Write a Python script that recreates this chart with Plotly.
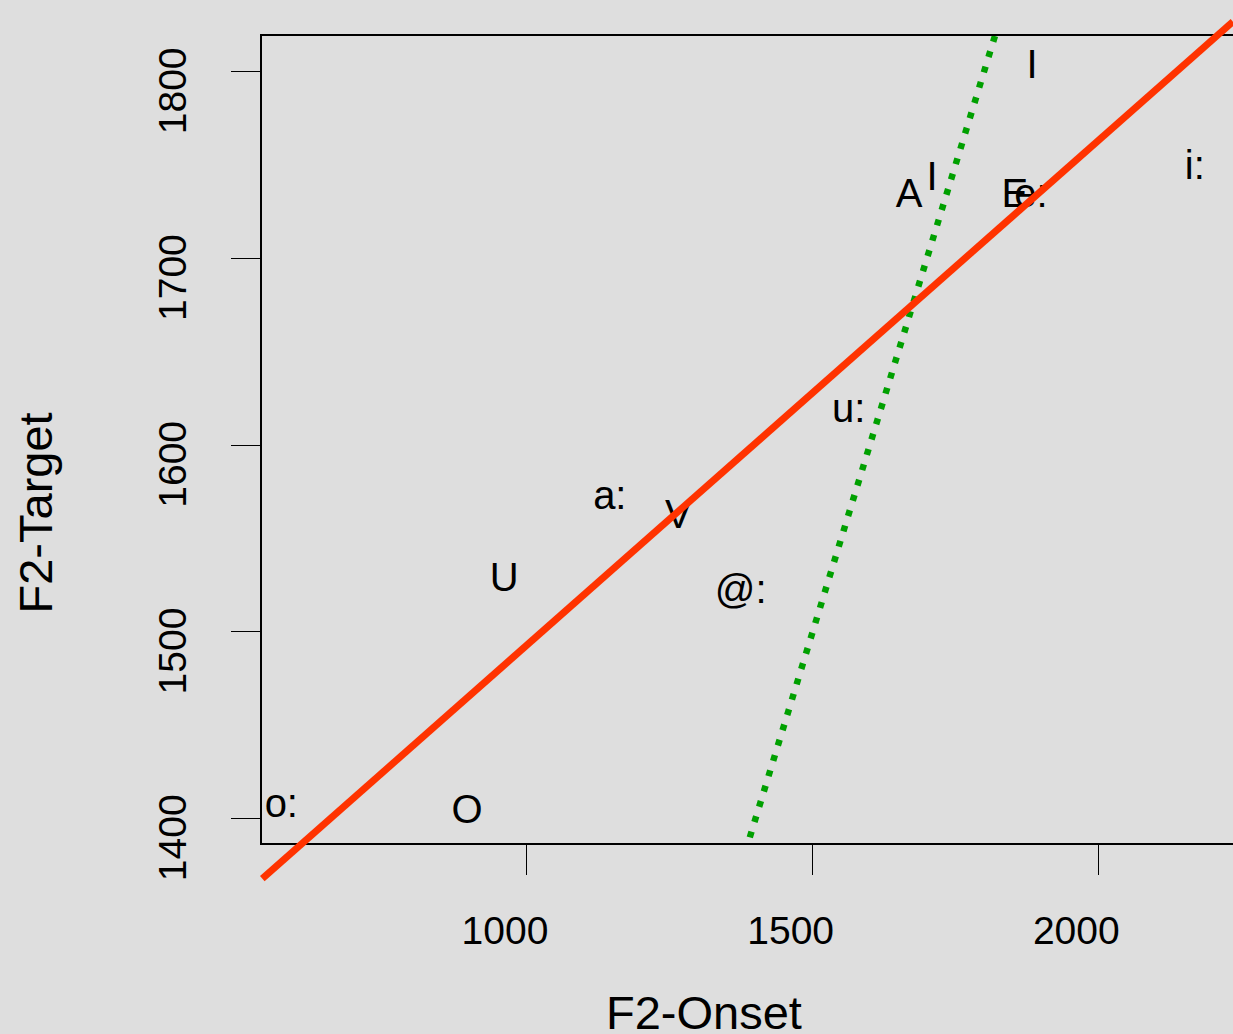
import plotly.graph_objects as go

# ---------------- data ----------------
vowels = ["o:", "O", "U", "a:", "V", "@:", "u:", "A", "I", "E", "e:", "I", "i:"]
f2_onset = [570, 895, 960, 1145, 1265, 1374, 1563, 1669, 1709, 1854, 1882, 1884, 2169]
f2_target = [1406, 1403, 1527, 1571, 1561, 1521, 1618, 1733, 1742, 1733, 1733, 1802, 1748]

fit_intercept = 1222.9   # regression line (red)
fit_slope = 0.2701

x_ticks = [1000, 1500, 2000]
y_ticks = [1400, 1500, 1600, 1700, 1800]

# ---------------- layout geometry ----------------
W, H = 1233, 1034
x_range = [536.7, 2235.8]
y_range = [1386.8, 1819.1]
x_dom = [262.3 / W, 1.0]
y_dom = [1 - 843.3 / H, 1 - 36 / H]


def full_range(r, d, npx):
    upp = (r[1] - r[0]) / (npx * (d[1] - d[0]))
    return [r[0] - d[0] * npx * upp, r[1] + (1 - d[1]) * npx * upp]


x2_range = full_range(x_range, x_dom, W)
y2_range = full_range(y_range, y_dom, H)

FONT = "Liberation Sans, Arial, Helvetica, sans-serif"
BG = "#DEDEDE"
RED = "#FF3300"
GREEN = "#00A000"

fig = go.Figure()

# vowel labels
fig.add_trace(go.Scatter(
    x=f2_onset, y=f2_target, mode="text", text=vowels,
    textposition="middle center",
    textfont=dict(family=FONT, size=40, color="black"),
    xaxis="x", yaxis="y", hoverinfo="skip", showlegend=False,
    cliponaxis=False))

# identity line (green dotted), clipped to the plot box
id_vals = [y_range[1], y_range[0]]
fig.add_trace(go.Scatter(
    x=id_vals, y=id_vals, mode="lines",
    line=dict(color=GREEN, width=6.5, dash="6px,10px"),
    xaxis="x", yaxis="y", hoverinfo="skip", showlegend=False))

# regression line (red), drawn on a full-page axis pair so it is not clipped by the box
fit_x = [x_range[0], x2_range[1]]
fit_y = [fit_intercept + fit_slope * v for v in fit_x]
fig.add_trace(go.Scatter(
    x=fit_x, y=fit_y, mode="lines",
    line=dict(color=RED, width=7),
    xaxis="x2", yaxis="y2", hoverinfo="skip", showlegend=False))

axis_common = dict(
    showgrid=False, zeroline=False, showline=True, linecolor="black",
    linewidth=1.5, ticks="outside", ticklen=30, tickwidth=1.4,
    tickcolor="black", tickfont=dict(family=FONT, size=39, color="black"),
    automargin=False,
)

fig.update_layout(
    width=W, height=H,
    margin=dict(l=0, r=0, t=0, b=0, pad=0, autoexpand=False),
    paper_bgcolor=BG, plot_bgcolor="rgba(0,0,0,0)",
    showlegend=False,
    xaxis=dict(domain=x_dom, range=x_range, tickvals=x_ticks,
               ticktext=[str(v) for v in x_ticks], mirror=True, anchor="y",
               ticklabelshift=-22, ticklabelstandoff=22, **axis_common),
    yaxis=dict(domain=y_dom, range=y_range, tickvals=y_ticks,
               ticktext=[str(v) for v in y_ticks], tickangle=-90, anchor="x",
               ticklabelshift=25, ticklabelstandoff=29, **axis_common),
    xaxis2=dict(domain=[0, 1], range=x2_range, visible=False, anchor="y2"),
    yaxis2=dict(domain=[0, 1], range=y2_range, visible=False, anchor="x2"),
    annotations=[
        dict(text="F2-Onset", xref="paper", yref="paper",
             x=704 / W, y=1 - 1012 / H, xanchor="center", yanchor="middle",
             showarrow=False, font=dict(family=FONT, size=47, color="black")),
        dict(text="F2-Target", xref="paper", yref="paper",
             x=35 / W, y=1 - 513.5 / H, xanchor="center", yanchor="middle",
             textangle=-90, showarrow=False,
             font=dict(family=FONT, size=47, color="black")),
    ],
)

fig.write_html("out.html", config={"displayModeBar": False},
               post_script="document.body.style.margin='0';")
